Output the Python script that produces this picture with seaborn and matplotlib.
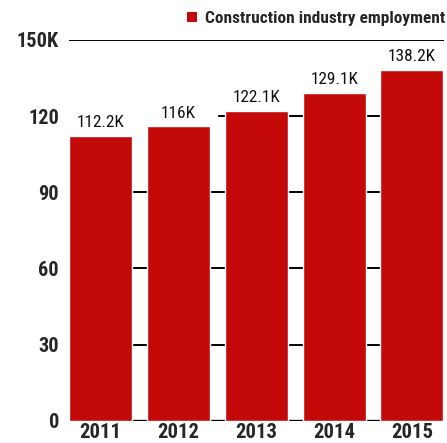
import pandas as pd
import matplotlib.pyplot as plt
import seaborn as sns
from matplotlib.patches import Patch
from matplotlib import font_manager

# Dados
anos = ['2011', '2012', '2013', '2014', '2015']
empregos = [112.2, 116.0, 122.1, 129.1, 138.2]
rotulos = ['112.2K', '116K', '122.1K', '129.1K', '138.2K']
ticks_y = [0, 30, 60, 90, 120, 150]
ticks_y_labels = ['0', '30', '60', '90', '120', '150K']

df = pd.DataFrame({'Ano': anos, 'Empregos': empregos})

sns.set_style('white')

# fonte estreita se houver, senão Roboto
nomes = {f.name for f in font_manager.fontManager.ttflist}
estreitas = [n for n in ['Liberation Sans Narrow', 'DejaVu Sans Condensed', 'Roboto Condensed'] if n in nomes]
condensada = len(estreitas) > 0
fonte = estreitas[0] if condensada else 'Roboto'
plt.rcParams['font.family'] = [fonte, 'DejaVu Sans']
esc = 1.12 if condensada else 1.0

vermelho = '#c40909'

fig = plt.figure(figsize=(4.47, 4.43), dpi=100)
ax = fig.add_axes([0.154, 0.05, 0.839, 0.86])

# linhas de grade atrás das barras
for v in ticks_y:
    ax.axhline(v, color='black', lw=2.4 if v == 0 else 1.4, zorder=0)

# fundo branco atrás dos rótulos (esconde a grade ali)
ax.bar(range(len(anos)), [9] * len(anos), bottom=empregos, width=1.0,
       color='white', zorder=1)

sns.barplot(data=df, x='Ano', y='Empregos', color=vermelho, width=0.81,
            saturation=1, ax=ax, zorder=2)

for i, (v, t) in enumerate(zip(empregos, rotulos)):
    ax.annotate(t, (i, v), xytext=(0, 4), textcoords='offset points',
                ha='center', va='bottom', fontsize=11.1 * esc, color='#111111',
                zorder=3)

ax.set_xlim(-0.41, 4.41)
ax.set_ylim(0, 150)
ax.set_yticks(ticks_y)
ax.set_yticklabels(ticks_y_labels, fontsize=13 * esc, fontweight='bold')
ax.tick_params(axis='y', length=0, pad=7)
ax.tick_params(axis='x', length=0, pad=1.5, labelsize=13.3 * esc)
for lbl in ax.get_xticklabels():
    lbl.set_fontweight('bold')
ax.set_xlabel('')
ax.set_ylabel('')
sns.despine(ax=ax, left=True, bottom=True, top=True, right=True)

handle = Patch(facecolor=vermelho, edgecolor='none')
fig.legend([handle], ['Construction industry employment'], loc='upper right',
           bbox_to_anchor=(1.03, 1.01), frameon=False, handlelength=0.55,
           handleheight=0.6, handletextpad=0.45,
           prop={'weight': 'bold', 'size': (12.4 if condensada else 10.8)})

fig.savefig('out.png', dpi=100)
